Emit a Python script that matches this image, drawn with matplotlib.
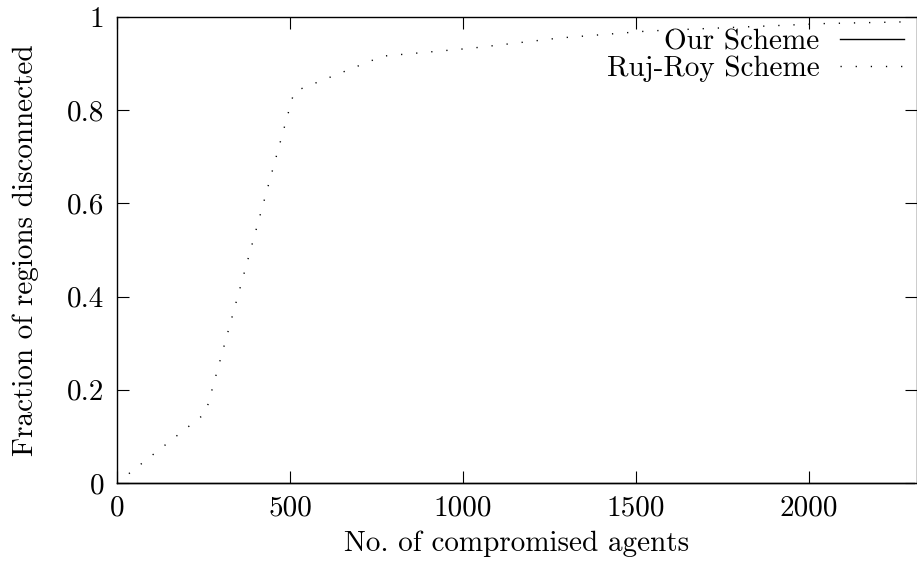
import numpy as np
import matplotlib
matplotlib.use("Agg")
import matplotlib.pyplot as plt

# data
agents = [0, 256, 512, 768, 1024, 1280, 1536, 1792, 2048, 2304]
ruj_roy = [0.0, 0.15, 0.84, 0.916, 0.933, 0.955, 0.970, 0.978, 0.986, 0.990]
ours = [0.0, 0.0, 0.0, 0.0, 0.0, 0.0, 0.0, 0.0, 0.0, 0.0]

x_ticks = [0, 500, 1000, 1500, 2000]
y_ticks = [0, 0.2, 0.4, 0.6, 0.8, 1.0]
y_tick_labels = ["0", "0.2", "0.4", "0.6", "0.8", "1"]

plt.rcParams["font.family"] = "serif"
plt.rcParams["font.serif"] = ["cmr10", "DejaVu Serif"]
plt.rcParams["mathtext.fontset"] = "cm"
FS = 21

fig = plt.figure(figsize=(9.17, 5.63), dpi=100)
ax = fig.add_axes([117 / 917, 1 - 483 / 563, 800 / 917, 466 / 563])

ax.plot(agents, ours, color="black", lw=1, label="Our Scheme", clip_on=False)
ax.plot(agents, ruj_roy, color="black", lw=1.0, linestyle=(0, (0.9, 10)),
        label="Ruj-Roy Scheme")

ax.set_xlim(0, 2312)
ax.set_ylim(0, 1)
ax.set_xticks(x_ticks)
ax.set_xticklabels([str(t) for t in x_ticks])
ax.set_yticks(y_ticks)
ax.set_yticklabels(y_tick_labels)
ax.tick_params(direction="in", length=8.5, width=0.8, top=True, right=True,
               pad=9, labelsize=FS)
for s in ax.spines.values():
    s.set_linewidth(1.0)

ax.set_xlabel("No. of compromised agents", fontsize=FS, labelpad=6)
ax.set_ylabel("Fraction of regions disconnected", fontsize=FS, labelpad=20)

ax.legend(loc="upper right", bbox_to_anchor=(1.004, 1.009), frameon=False,
          markerfirst=False, handlelength=2.2, handletextpad=0.7,
          labelspacing=0.0, borderaxespad=0.45, fontsize=FS, borderpad=0.1)

fig.savefig("out.png", dpi=100)
